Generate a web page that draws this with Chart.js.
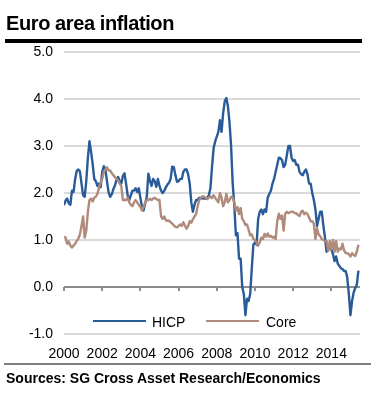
<!DOCTYPE html>
<html><head><meta charset="utf-8">
<script src="https://cdn.jsdelivr.net/npm/chart.js@4.4.0/dist/chart.umd.min.js"></script>
<style>
html,body{margin:0;padding:0;background:#fff;}
body{width:381px;height:408px;position:relative;overflow:hidden;font-family:'Liberation Sans',Arial,sans-serif;color:#000;}
#title{position:absolute;left:6px;top:13px;font-size:20px;line-height:20px;font-weight:bold;letter-spacing:-0.4px;white-space:nowrap;}
#rule{position:absolute;left:5px;top:39px;width:357px;height:4px;background:#000;}
#wrap{position:absolute;left:0;top:0;width:381px;height:408px;}
#srcrule{position:absolute;left:4px;top:363px;width:367px;height:2px;background:#7f7f7f;}
#source{position:absolute;left:6px;top:371px;font-size:14px;line-height:14px;font-weight:bold;white-space:nowrap;}
.legline{position:absolute;top:320px;height:2px;}
.legtext{position:absolute;top:315px;font-size:14px;line-height:14px;white-space:nowrap;}
</style></head>
<body>
<div id="wrap"><canvas id="c" width="381" height="408"></canvas></div>
<div id="title">Euro area inflation</div>
<div id="rule"></div>
<div class="legline" style="left:93px;width:53px;background:#2a5b99"></div>
<div class="legtext" style="left:152px">HICP</div>
<div class="legline" style="left:206px;width:53px;background:#b08a7a"></div>
<div class="legtext" style="left:266px">Core</div>
<div id="srcrule"></div>
<div id="source">Sources: SG Cross Asset Research/Economics</div>
<script>
const startYear = 2000;
const seriesNames = ['HICP', 'Core'];
const xTickYears = [2000, 2002, 2004, 2006, 2008, 2010, 2012, 2014];
const yTickValues = [-1, 0, 1, 2, 3, 4, 5];

// Monthly annual rates, Jan 2000 - Jun 2015
const hicp = [
  1.74, 1.84, 1.88, 1.78, 1.75, 2.05, 2.02, 2.3, 2.47, 2.5, 2.46, 2.2,
  1.95, 1.92, 2.25, 2.75, 3.1, 2.88, 2.62, 2.3, 2.25, 2.15, 2.2, 2.12,
  2.45, 2.57, 2.5, 2.25, 2.02, 1.92, 1.97, 2.08, 2.16, 2.28, 2.34, 2.25,
  2.2, 2.36, 2.42, 2.2, 1.95, 1.85, 1.95, 2.05, 2.05, 2.1, 2.02, 2.1,
  1.9, 1.7, 1.63, 1.78, 1.91, 2.41, 2.27, 2.15, 2.3, 2.25, 2.13, 2.3,
  2.15, 2.05, 2.0, 2.05, 2.12, 2.18, 2.22, 2.3, 2.56, 2.55, 2.38, 2.24,
  2.25, 2.3, 2.3, 2.45, 2.5, 2.5, 2.4, 2.2, 1.8, 1.6, 1.75, 1.85,
  1.85, 1.9, 1.88, 1.9, 1.88, 1.88, 1.9, 1.95, 2.1, 2.55, 2.95, 3.1,
  3.2, 3.3, 3.55, 3.3, 3.7, 3.95, 4.02, 3.85, 3.5, 3.0, 2.2, 1.75,
  1.1, 1.15, 0.6, 0.6, 0.0, -0.15, -0.6, -0.25, -0.3, -0.15, 0.4, 0.9,
  0.95, 0.9, 1.45, 1.6, 1.65, 1.55, 1.65, 1.6, 1.9, 1.98, 2.05, 2.2,
  2.3, 2.45, 2.6, 2.75, 2.74, 2.7, 2.55, 2.6, 2.8, 3.0, 3.0, 2.75,
  2.68, 2.7, 2.6, 2.6, 2.45, 2.4, 2.38, 2.45, 2.5, 2.4, 2.2, 2.2,
  2.0, 1.85, 1.65, 1.3, 1.45, 1.6, 1.6, 1.3, 1.05, 0.75, 0.9, 0.82,
  0.8, 0.7, 0.55, 0.65, 0.5, 0.45, 0.4, 0.38, 0.34, 0.34, 0.2, -0.15,
  -0.6, -0.3, -0.12, -0.02, 0.05, 0.35
];
const core = [
  1.07, 1.05, 0.92, 0.97, 0.88, 0.84, 0.88, 0.92, 0.98, 1.03, 1.12, 1.3,
  1.5, 1.05, 1.2, 1.6, 1.85, 1.88, 1.82, 1.9, 1.92, 1.98, 2.12, 2.22,
  2.3, 2.45, 2.5, 2.55, 2.48, 2.48, 2.42, 2.38, 2.34, 2.3, 2.27, 2.2,
  2.15, 1.85, 1.85, 1.85, 1.9, 1.8, 1.75, 1.72, 1.8, 1.85, 1.8, 1.75,
  1.7, 1.63, 1.7, 1.8, 1.85, 1.85, 1.88, 1.85, 1.88, 1.9, 1.87, 1.85,
  1.85, 1.5, 1.45, 1.5, 1.42, 1.41, 1.41, 1.38, 1.35, 1.31, 1.28, 1.27,
  1.3, 1.33, 1.3, 1.38, 1.3, 1.24, 1.3, 1.4, 1.37, 1.44, 1.5, 1.55,
  1.72, 1.85, 1.9, 1.93, 1.92, 1.9, 1.87, 1.9, 1.93, 1.89, 1.95, 1.9,
  1.85, 1.8, 2.0, 1.9, 1.72, 1.8, 1.98, 1.8, 1.85, 1.92, 1.9, 1.8,
  1.62, 1.7, 1.55, 1.68, 1.45, 1.4, 1.32, 1.33, 1.22, 1.1, 1.12, 1.02,
  1.0, 0.95, 0.88, 0.95, 1.05, 1.02, 1.13, 1.07, 1.14, 1.07, 1.09, 1.05,
  1.07, 1.02, 1.41, 1.56, 1.45, 1.52, 1.2, 1.56, 1.6, 1.57, 1.59, 1.6,
  1.6, 1.57, 1.57, 1.53, 1.51, 1.6, 1.62, 1.55, 1.58, 1.55, 1.48, 1.4,
  1.4, 1.35, 1.02, 1.25, 1.12, 1.08, 1.02, 1.0, 0.98, 0.98, 0.77, 0.98,
  0.8, 1.0, 0.75, 0.98, 0.75, 0.82, 0.8, 0.92, 0.78, 0.72, 0.72, 0.7,
  0.65, 0.72, 0.68, 0.66, 0.75, 0.9
];

const toPoints = arr => arr.map((v, i) => ({x: startYear + i / 12, y: v}));
const FONT = "'Liberation Sans', Arial, sans-serif";

const zeroTicks = {
  id: 'zeroTicks',
  beforeDatasetsDraw(chart) {
    const xs = chart.scales.x, ys = chart.scales.y;
    const y0 = Math.round(ys.getPixelForValue(0));
    const ctx = chart.ctx;
    ctx.save();
    ctx.strokeStyle = '#8c8c8c';
    ctx.lineWidth = 2;
    xs.ticks.forEach(t => {
      const px = Math.round(xs.getPixelForValue(t.value));
      ctx.beginPath();
      ctx.moveTo(px, y0);
      ctx.lineTo(px, y0 + 4);
      ctx.stroke();
    });
    ctx.restore();
  }
};

new Chart(document.getElementById('c'), {
  type: 'line',
  data: {
    datasets: [
      {label: seriesNames[0], data: toPoints(hicp), borderColor: '#2a5b99', borderWidth: 2.4, pointRadius: 0, tension: 0, order: 2, borderJoinStyle: 'round'},
      {label: seriesNames[1], data: toPoints(core), borderColor: '#b08a7a', borderWidth: 2.4, pointRadius: 0, tension: 0, order: 1, borderJoinStyle: 'round'}
    ]
  },
  options: {
    responsive: false,
    animation: false,
    devicePixelRatio: 1,
    layout: {padding: {left: 0, right: 21, top: 52, bottom: 44}},
    plugins: {legend: {display: false}, tooltip: {enabled: false}},
    scales: {
      x: {
        type: 'linear', min: 2000, max: 2015.5,
        afterFit: s => { s.height = 30; },
        afterBuildTicks: s => { s.ticks = xTickYears.map(v => ({value: v})); },
        grid: {display: false},
        border: {display: false},
        ticks: {color: '#000', font: {family: FONT, size: 14}, padding: 4, maxRotation: 0, autoSkip: false, includeBounds: false, callback: v => String(v)}
      },
      y: {
        min: -1, max: 5,
        afterFit: s => { s.width = 64; },
        afterBuildTicks: s => { s.ticks = yTickValues.map(v => ({value: v})); },
        grid: {drawTicks: false, lineWidth: 2, color: c => (c.tick && c.tick.value === 0) ? '#8c8c8c' : '#dadada'},
        border: {display: false},
        ticks: {color: '#000', font: {family: FONT, size: 14}, padding: 11, callback: v => v.toFixed(1)}
      }
    }
  },
  plugins: [zeroTicks]
});
</script>
</body></html>
